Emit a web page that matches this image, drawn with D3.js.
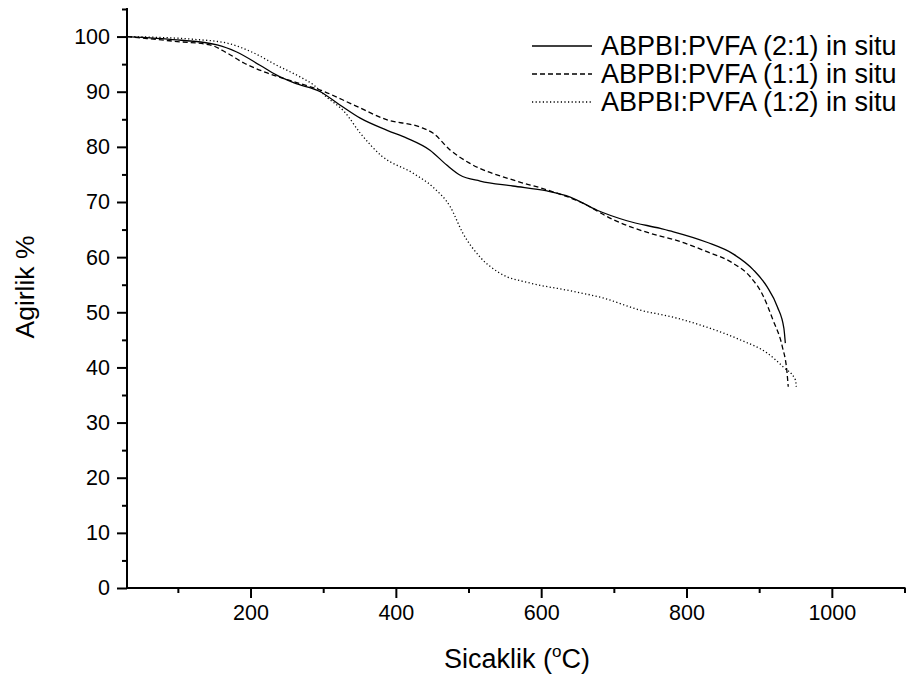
<!DOCTYPE html>
<html>
<head>
<meta charset="utf-8">
<script src="https://cdn.jsdelivr.net/npm/d3@7"></script>
<style>
  html, body { margin: 0; padding: 0; background: #fff; }
  svg { display: block; }
  text { font-family: "Liberation Sans", Arial, sans-serif; fill: #000; }
</style>
</head>
<body>
<svg id="chart" width="907" height="677"></svg>
<script>
// ---- Data ----
const seriesNames = ["ABPBI:PVFA (2:1) in situ", "ABPBI:PVFA (1:1) in situ", "ABPBI:PVFA (1:2) in situ"];

const temps21 = [30, 99, 154, 181, 213, 236, 260, 296, 323, 351, 388, 415, 447, 470, 488, 516, 561, 608, 640, 677, 718, 764, 782, 828, 864, 892, 911, 925, 934, 936];
const weight21 = [100, 99.4, 98.5, 97.2, 94.8, 93.0, 91.6, 90.0, 87.6, 85.2, 83.0, 81.6, 79.4, 76.7, 74.9, 73.8, 72.9, 72.0, 70.9, 68.5, 66.6, 65.2, 64.6, 62.7, 60.6, 57.7, 54.6, 51.0, 47.1, 44.4];

const temps11 = [30, 99, 144, 168, 191, 223, 260, 296, 342, 388, 433, 451, 475, 502, 561, 608, 654, 699, 764, 782, 828, 864, 888, 905, 919, 932, 938, 940];
const weight11 = [100, 99.1, 98.5, 97.0, 95.2, 93.4, 91.8, 90.3, 87.6, 84.9, 83.6, 82.5, 79.4, 77.0, 74.0, 72.2, 70.0, 66.8, 63.8, 63.2, 61.0, 58.9, 56.4, 53.1, 48.6, 43.7, 39.5, 36.5];

const temps12 = [30, 122, 168, 205, 236, 268, 287, 305, 329, 351, 380, 424, 451, 475, 492, 516, 543, 585, 636, 685, 736, 782, 828, 874, 911, 933, 950, 951];
const weight12 = [100, 99.5, 98.8, 97.0, 94.8, 92.7, 91.2, 89.0, 86.4, 82.5, 78.4, 75.2, 72.7, 69.1, 64.4, 60.0, 57.1, 55.3, 54.0, 52.6, 50.4, 49.1, 47.3, 45.0, 42.6, 40.1, 37.7, 36.5];

const xMajorTicks = [200, 400, 600, 800, 1000];
const xMinorTicks = [100, 300, 500, 700, 900, 1100];
const yMajorTicks = [0, 10, 20, 30, 40, 50, 60, 70, 80, 90, 100];
const yMinorTicks = [5, 15, 25, 35, 45, 55, 65, 75, 85, 95, 105];

const xTitle = "Sicaklik (";
const xTitleSup = "o";
const xTitleEnd = "C)";
const yTitle = "Agirlik %";

// ---- Layout ----
const svg = d3.select("#chart");
const plotLeft = 127, plotRight = 904.5, plotTop = 9, plotBottom = 588;

const x = d3.scaleLinear().domain([30, 1100]).range([plotLeft, plotRight]);
const y = d3.scaleLinear().domain([0, 105]).range([plotBottom, plotTop]);

const styles = [
  { dash: null },
  { dash: "5,3" },
  { dash: "1.2,2.4" }
];
const series = [
  { name: seriesNames[0], t: temps21, w: weight21 },
  { name: seriesNames[1], t: temps11, w: weight11 },
  { name: seriesNames[2], t: temps12, w: weight12 }
];

const line = d3.line()
  .x(d => x(d[0]))
  .y(d => y(d[1]))
  .curve(d3.curveMonotoneX);

series.forEach((s, i) => {
  const pts = s.t.map((t, k) => [t, s.w[k]]);
  svg.append("path")
    .attr("d", line(pts))
    .attr("fill", "none")
    .attr("stroke", "#000")
    .attr("stroke-width", 1.3)
    .attr("stroke-dasharray", styles[i].dash);
});

// ---- Axes ----
const fontTick = 21.5;
const xAxis = d3.axisBottom(x).tickValues(xMajorTicks).tickSize(10).tickPadding(7).tickFormat(d3.format("d"));
const gx = svg.append("g").attr("transform", `translate(0,${plotBottom})`).call(xAxis);
gx.select(".domain").remove();
gx.selectAll(".tick line").attr("stroke", "#000").attr("stroke-width", 2);
gx.selectAll(".tick text").attr("font-size", fontTick).style("font-family", "Liberation Sans, Arial, sans-serif");
const gxm = svg.append("g").attr("transform", `translate(0,${plotBottom})`)
  .call(d3.axisBottom(x).tickValues(xMinorTicks).tickSize(5).tickFormat(""));
gxm.select(".domain").remove();
gxm.selectAll(".tick line").attr("stroke", "#000").attr("stroke-width", 2);

const yAxis = d3.axisLeft(y).tickValues(yMajorTicks).tickSize(10).tickPadding(7).tickFormat(d3.format("d"));
const gy = svg.append("g").attr("transform", `translate(${plotLeft},0)`).call(yAxis);
gy.select(".domain").remove();
gy.selectAll(".tick line").attr("stroke", "#000").attr("stroke-width", 2);
gy.selectAll(".tick text").attr("font-size", fontTick).style("font-family", "Liberation Sans, Arial, sans-serif");
const gym = svg.append("g").attr("transform", `translate(${plotLeft},0)`)
  .call(d3.axisLeft(y).tickValues(yMinorTicks).tickSize(5).tickFormat(""));
gym.select(".domain").remove();
gym.selectAll(".tick line").attr("stroke", "#000").attr("stroke-width", 2);

svg.append("line").attr("x1", plotLeft).attr("x2", plotLeft).attr("y1", y(105) - 1).attr("y2", plotBottom + 1)
  .attr("stroke", "#000").attr("stroke-width", 2);
svg.append("line").attr("x1", plotLeft - 1).attr("x2", plotRight + 1).attr("y1", plotBottom).attr("y2", plotBottom)
  .attr("stroke", "#000").attr("stroke-width", 2);

// ---- Titles ----
const xt = svg.append("text")
  .attr("x", 517)
  .attr("y", 668)
  .attr("text-anchor", "middle")
  .attr("font-size", 27);
xt.append("tspan").text(xTitle);
xt.append("tspan").attr("font-size", 17).attr("dy", -11).text(xTitleSup);
xt.append("tspan").attr("dy", 11).text(xTitleEnd);

svg.append("text")
  .attr("transform", `translate(34,287) rotate(-90)`)
  .attr("text-anchor", "middle")
  .attr("font-size", 26.5)
  .text(yTitle);

// ---- Legend ----
const legend = svg.append("g");
series.forEach((s, i) => {
  const yy = 46 + i * 28;
  legend.append("line")
    .attr("x1", 532).attr("x2", 592).attr("y1", yy).attr("y2", yy)
    .attr("stroke", "#000").attr("stroke-width", 1.3)
    .attr("stroke-dasharray", styles[i].dash);
  legend.append("text")
    .attr("x", 601).attr("y", yy + 9)
    .attr("font-size", 27)
    .text(s.name);
});
</script>
</body>
</html>
